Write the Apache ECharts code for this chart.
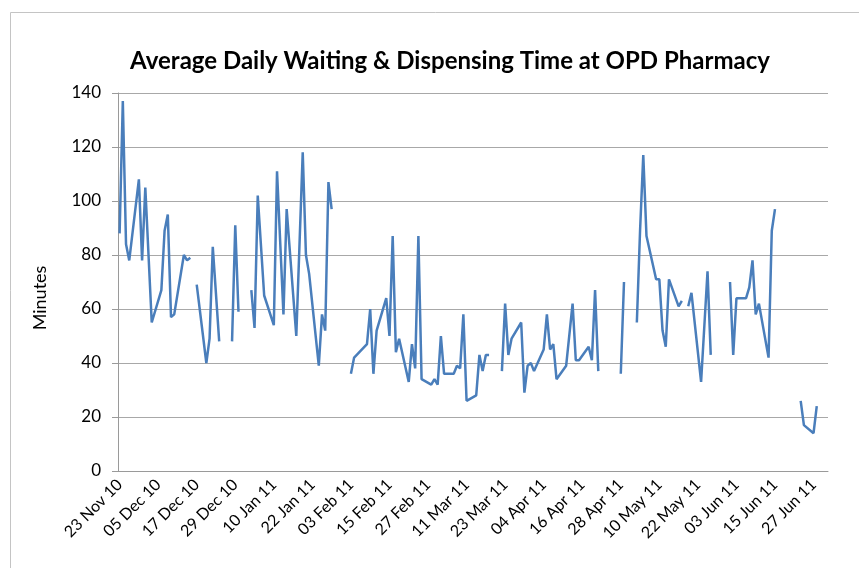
<!DOCTYPE html>
<html>
<head>
<meta charset="utf-8">
<script src="https://cdn.jsdelivr.net/npm/echarts@6/dist/echarts.min.js"></script>
<style>
html,body{margin:0;padding:0;background:#fff;}
#chart{width:859px;height:568px;}
</style>
</head>
<body>
<div id="chart"></div>
<script>
// Axis: every calendar day from 23 Nov 2010 through 1 Jul 2011
const axisStart = '2010-11-23';
const axisDays = 221;
const monthNames = ['Jan','Feb','Mar','Apr','May','Jun','Jul','Aug','Sep','Oct','Nov','Dec'];

// Dates with data rows (null = blank cell, shown as a gap)
const dates = [
'2010-11-23','2010-11-24','2010-11-25','2010-11-26','2010-11-29','2010-11-30','2010-12-01','2010-12-03',
'2010-12-06','2010-12-07','2010-12-08','2010-12-09','2010-12-10','2010-12-13','2010-12-14','2010-12-15',
'2010-12-16',
'2010-12-17','2010-12-20','2010-12-21','2010-12-22','2010-12-24',
'2010-12-27',
'2010-12-28','2010-12-29','2010-12-30',
'2010-12-31',
'2011-01-03','2011-01-04','2011-01-05','2011-01-07','2011-01-10','2011-01-11','2011-01-13','2011-01-14',
'2011-01-17','2011-01-19','2011-01-20','2011-01-21','2011-01-24','2011-01-25','2011-01-26','2011-01-27','2011-01-28',
'2011-01-31',
'2011-02-03','2011-02-04','2011-02-08','2011-02-09','2011-02-10','2011-02-11','2011-02-14','2011-02-15',
'2011-02-16','2011-02-17','2011-02-18','2011-02-21','2011-02-22','2011-02-23','2011-02-24','2011-02-25',
'2011-02-28','2011-03-01','2011-03-02','2011-03-03','2011-03-04','2011-03-07','2011-03-08','2011-03-09',
'2011-03-10','2011-03-11','2011-03-14','2011-03-15','2011-03-16','2011-03-17','2011-03-18',
'2011-03-21',
'2011-03-22','2011-03-23','2011-03-24','2011-03-25','2011-03-28','2011-03-29','2011-03-30','2011-03-31',
'2011-04-01','2011-04-04','2011-04-05','2011-04-06','2011-04-07','2011-04-08','2011-04-11','2011-04-13',
'2011-04-14','2011-04-15','2011-04-18','2011-04-19','2011-04-20','2011-04-21',
'2011-04-22',
'2011-04-28','2011-04-29',
'2011-05-02',
'2011-05-03','2011-05-04','2011-05-05','2011-05-06','2011-05-09','2011-05-10','2011-05-11','2011-05-12',
'2011-05-13','2011-05-16','2011-05-17',
'2011-05-18',
'2011-05-19','2011-05-20','2011-05-23','2011-05-25','2011-05-26',
'2011-05-27',
'2011-06-01','2011-06-02','2011-06-03','2011-06-06','2011-06-07','2011-06-08','2011-06-09','2011-06-10',
'2011-06-13','2011-06-14','2011-06-15',
'2011-06-16',
'2011-06-23','2011-06-24','2011-06-27','2011-06-28'
];
const minutes = [
88,137,84,78,108,78,105,55,
67,89,95,57,58,80,78,79,
null,
69,40,49,83,48,
null,
48,91,59,
null,
67,53,102,65,54,111,58,97,
50,118,80,73,39,58,52,107,97,
null,
36,42,47,60,36,52,64,50,
87,44,49,33,47,38,87,34,
32,34,32,50,36,36,39,38,
58,26,28,43,37,43,43,
null,
37,62,43,49,55,29,39,40,
37,45,58,45,47,34,39,62,
41,41,46,41,67,37,
null,
36,70,
null,
55,89,117,87,71,71,52,46,
71,61,63,
null,
61,66,33,74,43,
null,
70,43,64,64,68,78,58,62,
42,89,97,
null,
26,17,14,24
];

const yMin = 0, yMax = 140, yStep = 20;

function toUTC(s){ const p = s.split('-'); return Date.UTC(+p[0], +p[1]-1, +p[2]); }
const t0 = toUTC(axisStart);
const categories = [];
for (let i = 0; i < axisDays; i++) {
  const d = new Date(t0 + i * 86400000);
  const dd = String(d.getUTCDate()).padStart(2,'0');
  const yy = String(d.getUTCFullYear() % 100).padStart(2,'0');
  categories.push(dd + ' ' + monthNames[d.getUTCMonth()] + ' ' + yy);
}
const seriesData = dates.map((s, i) => [Math.round((toUTC(s) - t0) / 86400000), minutes[i] === null ? '-' : minutes[i]]);

const chart = echarts.init(document.getElementById('chart'), null, {renderer:'canvas'});
const FONT = 'Lato, "Open Sans", sans-serif';
chart.setOption({
  animation: false,
  backgroundColor: '#ffffff',
  title: {
    text: 'Average Daily Waiting & Dispensing Time at OPD Pharmacy',
    left: 445, top: 44, textAlign: 'center',
    textStyle: {fontFamily: FONT, fontWeight: 'bold', fontSize: 24, color: '#000'}
  },
  graphic: [{
    type: 'rect', left: 8, top: 10, silent: true,
    shape: {width: 900, height: 700},
    style: {fill: 'none', stroke: '#c4c4c4', lineWidth: 1}
  }, {
    type: 'text', x: 40, y: 298, rotation: Math.PI / 2, silent: true,
    style: {text: 'Minutes', fontFamily: FONT, fontSize: 18, fill: '#000', align: 'center', verticalAlign: 'middle'}
  }],
  grid: {left: 118, right: 31, top: 93, bottom: 97, containLabel: false},
  xAxis: {
    type: 'category',
    data: categories,
    boundaryGap: true,
    axisLine: {lineStyle: {color: '#9a9a9a', width: 1}},
    axisTick: {interval: 11, length: 5, lineStyle: {color: '#9a9a9a'}},
    axisLabel: {interval: 11, rotate: 45, margin: 11, fontFamily: FONT, fontSize: 16, color: '#000'},
    splitLine: {show: false}
  },
  yAxis: {
    type: 'value', min: yMin, max: yMax, interval: yStep,
    axisLine: {show: true, lineStyle: {color: '#9a9a9a', width: 1}},
    axisTick: {show: true, length: 6, lineStyle: {color: '#9a9a9a'}},
    axisLabel: {margin: 17, fontFamily: FONT, fontSize: 17, color: '#000'},
    splitLine: {lineStyle: {color: '#a8a8a8', width: 1}}
  },
  series: [{
    type: 'line',
    data: seriesData,
    connectNulls: false,
    showSymbol: false,
    symbol: 'none',
    lineStyle: {color: '#4A7EBB', width: 2.5},
    itemStyle: {color: '#4A7EBB'}
  }]
});
</script>
</body>
</html>
